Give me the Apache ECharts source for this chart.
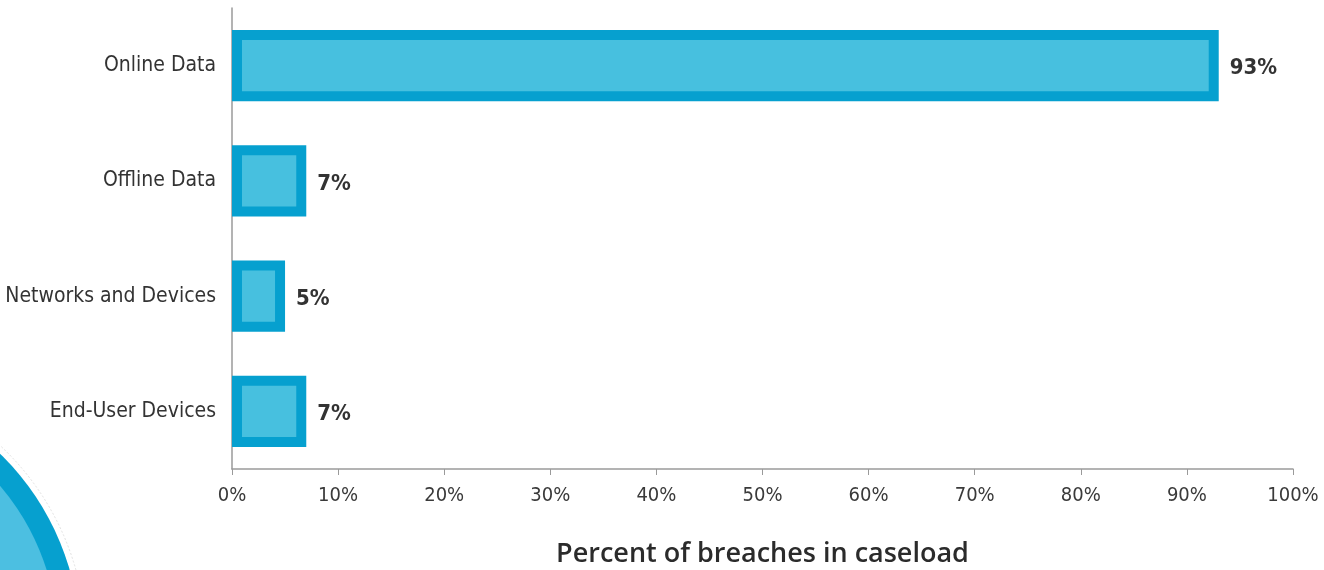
<!DOCTYPE html>
<html>
<head>
<meta charset="utf-8">
<style>
  html, body { margin: 0; padding: 0; background: #ffffff; }
  #chart { width: 1324px; height: 570px; }
</style>
<script src="https://cdn.jsdelivr.net/npm/echarts@6/dist/echarts.min.js"></script>
</head>
<body>
<div id="chart"></div>
<script>
// Share of breaches per asset category
const categories = ['Online Data', 'Offline Data', 'Networks and Devices', 'End-User Devices'];
const percents = [93, 7, 5, 7];
const tickValues = [0, 10, 20, 30, 40, 50, 60, 70, 80, 90, 100];
const axisTitle = 'Percent of breaches in caseload';

const NARROW = "'Liberation Sans Narrow', 'DejaVu Sans Condensed', 'Liberation Sans', sans-serif";
const EDGE = '#06a0cf';
const FILL = '#47c0df';
const BORDER = 10;

const chart = echarts.init(document.getElementById('chart'), null, { renderer: 'canvas' });

// Bars with a thick inset border plus a bold value label after each bar
function renderBar(params, api) {
  const v = api.value(0);
  const cat = api.value(1);
  const base = api.coord([0, cat]);
  const end = api.coord([v, cat]);
  const band = api.size([0, 1])[1];
  const h = band * 0.62;
  const x0 = base[0];
  const w = end[0] - base[0];
  const y0 = end[1] - h / 2;
  return {
    type: 'group',
    children: [
      { type: 'rect', shape: { x: x0, y: y0, width: w, height: h }, style: { fill: EDGE } },
      { type: 'rect', shape: { x: x0 + BORDER, y: y0 + BORDER, width: Math.max(0, w - 2 * BORDER), height: h - 2 * BORDER }, style: { fill: FILL } },
      { type: 'text', style: {
          text: v + '%', x: end[0] + 11, y: end[1] + 3,
          fill: '#333333', font: 'bold 22px ' + NARROW,
          align: 'left', verticalAlign: 'middle'
        } }
    ]
  };
}

chart.setOption({
  animation: false,
  backgroundColor: '#ffffff',
  graphic: [
    // decorative ring in the lower-left corner
    { type: 'circle', shape: { cx: -184, cy: 643, r: 270 }, style: { fill: 'none', stroke: '#e2e2e2', lineWidth: 1, lineDash: [2, 2] }, z: -10 },
    { type: 'circle', shape: { cx: -184, cy: 643, r: 264 }, style: { fill: EDGE }, z: -10 },
    { type: 'circle', shape: { cx: -184, cy: 643, r: 242 }, style: { fill: '#4cbfe1' }, z: -10 }
  ],
  grid: { left: 232, right: 31, top: 8, bottom: 101, containLabel: false, outerBoundsMode: 'none' },
  xAxis: {
    type: 'value',
    min: 0, max: 100, interval: 10,
    name: axisTitle,
    nameLocation: 'middle',
    nameGap: 72,
    nameTextStyle: { fontFamily: "'Open Sans', Lato, sans-serif", fontWeight: 600, fontSize: 27, color: '#2b2b2b' },
    axisLine: { show: true, lineStyle: { color: '#9a9a9a', width: 1.5 } },
    axisTick: { show: true, length: 6, lineStyle: { color: '#9a9a9a', width: 1 } },
    splitLine: { show: false },
    axisLabel: {
      margin: 17,
      fontFamily: NARROW, fontSize: 20, color: '#3a3a3a',
      formatter: function (val) { return tickValues.indexOf(val) >= 0 ? val + '%' : ''; }
    }
  },
  yAxis: {
    type: 'category',
    data: categories,
    inverse: true,
    axisLine: { show: true, lineStyle: { color: '#9a9a9a', width: 1.5 } },
    axisTick: { show: false },
    axisLabel: { margin: 16, fontFamily: NARROW, fontSize: 21, color: '#333333' }
  },
  series: [{
    type: 'custom',
    renderItem: renderBar,
    encode: { x: 0, y: 1 },
    data: percents.map(function (p, i) { return [p, i]; }),
    z: 5
  }]
});
</script>
</body>
</html>
